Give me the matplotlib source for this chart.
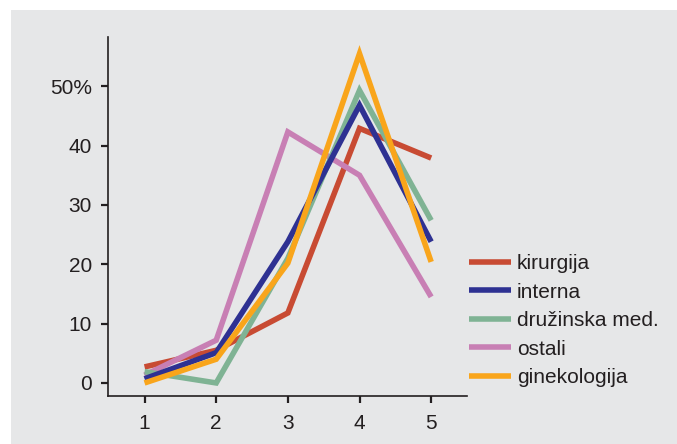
import matplotlib.pyplot as plt
from matplotlib.patches import Rectangle

# share of respondents per answer grade, by speciality
grades = [1, 2, 3, 4, 5]
kirurgija = [2.7, 5.5, 11.8, 42.9, 37.9]
interna = [0.7, 5.1, 23.8, 46.8, 23.8]
druzinska = [1.9, 0.0, 21.0, 49.3, 27.4]
ostali = [1.3, 7.2, 42.3, 35.0, 14.5]
ginekologija = [0.0, 4.0, 20.2, 55.5, 20.4]

labels = ['kirurgija', 'interna', 'družinska med.', 'ostali', 'ginekologija']
colors = ['#c84b33', '#2e3192', '#7fb394', '#c87fb4', '#f9a51b']
zorders = [2, 4, 3, 2.5, 5]
ytick_vals = [0, 10, 20, 30, 40, 50]
ytick_labels = ['0', '10', '20', '30', '40', '50%']

plt.rcParams['font.family'] = ['Liberation Sans', 'DejaVu Sans']
ink = '#231f20'
bg = '#e6e7e8'

fig = plt.figure(figsize=(6.77, 4.44), dpi=100)
fig.patch.set_facecolor('white')
fig.patches.append(Rectangle((11 / 677, 0), 1, 1 - 10 / 444, transform=fig.transFigure,
                             facecolor=bg, edgecolor='none', zorder=-10))

ax = fig.add_axes([108 / 677, 48 / 444, (467 - 108) / 677, (396 - 37) / 444])
ax.set_facecolor(bg)

series = [kirurgija, interna, druzinska, ostali, ginekologija]
for vals, lab, col, z in zip(series, labels, colors, zorders):
    ax.plot(grades, vals, color=col, lw=4.0, label=lab, zorder=z,
            solid_capstyle='butt', solid_joinstyle='miter')

ax.set_xlim(0.49, 5.5)
ax.set_ylim(-2.2, 58.3)
ax.set_xticks(grades)
ax.set_yticks(ytick_vals)
ax.set_yticklabels(ytick_labels)

for side in ['top', 'right']:
    ax.spines[side].set_visible(False)
for side in ['left', 'bottom']:
    ax.spines[side].set_color(ink)
    ax.spines[side].set_linewidth(1.2)
ax.tick_params(axis='both', colors=ink, labelcolor=ink, labelsize=15,
               length=5, width=1.6, direction='out')
ax.tick_params(axis='y', pad=6.5)
ax.tick_params(axis='x', pad=8)

fig.legend(loc='upper left', bbox_to_anchor=(469 / 677, 1 - 254 / 444),
           frameon=False, fontsize=15, handlelength=2.0, handletextpad=0.3,
           labelspacing=0.46, borderaxespad=0, borderpad=0,
           labelcolor=ink)

fig.savefig('out.png', dpi=100, facecolor=fig.get_facecolor())
